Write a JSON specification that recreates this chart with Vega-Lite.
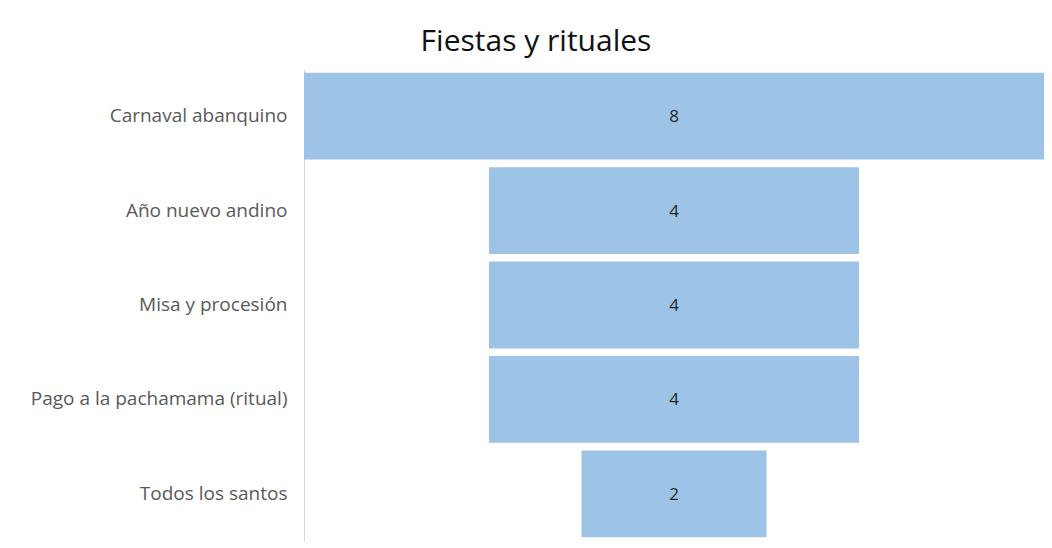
{
  "$schema": "https://vega.github.io/schema/vega-lite/v6.json",
  "autosize": {"type": "none"},
  "width": 740,
  "height": 472,
  "padding": {"left": 304, "top": 69, "right": 8, "bottom": 7},
  "background": "white",
  "title": {
    "text": "Fiestas y rituales",
    "anchor": "middle",
    "frame": "group",
    "dx": -138,
    "offset": 12,
    "font": "Open Sans",
    "fontSize": 30,
    "fontWeight": "normal",
    "color": "#111111"
  },
  "data": {
    "values": [
      {"fiesta": "Carnaval abanquino", "valor": 8},
      {"fiesta": "Año nuevo andino", "valor": 4},
      {"fiesta": "Misa y procesión", "valor": 4},
      {"fiesta": "Pago a la pachamama (ritual)", "valor": 4},
      {"fiesta": "Todos los santos", "valor": 2}
    ]
  },
  "encoding": {
    "y": {
      "field": "fiesta",
      "type": "nominal",
      "sort": null,
      "scale": {"paddingInner": 0.08, "paddingOuter": 0.04},
      "axis": {
        "title": null,
        "ticks": false,
        "labelFont": "Open Sans",
        "labelFontSize": 19,
        "labelColor": "#595959",
        "labelPadding": 17,
        "labelLimit": 300,
        "domainColor": "#D9D9D9",
        "domainWidth": 1
      }
    }
  },
  "layer": [
    {
      "mark": {"type": "bar", "color": "#9DC3E6"},
      "encoding": {
        "x": {
          "field": "valor",
          "type": "quantitative",
          "stack": "center",
          "scale": {"domain": [0, 8], "nice": false, "zero": true},
          "axis": null
        }
      }
    },
    {
      "mark": {"type": "text", "font": "Open Sans", "fontSize": 17, "color": "#262626", "baseline": "middle", "dy": 1},
      "encoding": {
        "x": {"datum": 4, "type": "quantitative"},
        "text": {"field": "valor", "type": "quantitative"}
      }
    }
  ],
  "config": {"view": {"stroke": null}}
}
